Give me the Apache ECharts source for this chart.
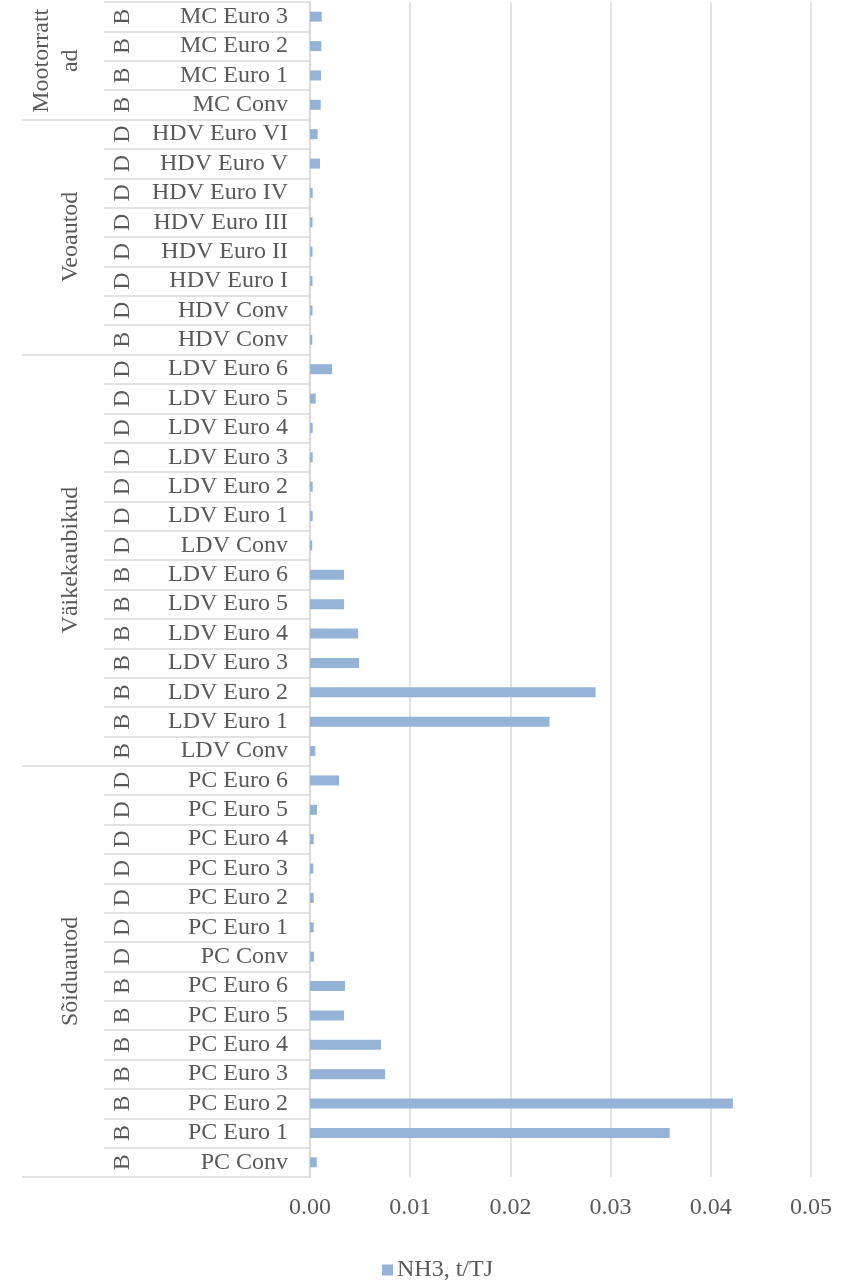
<!DOCTYPE html>
<html>
<head>
<meta charset="utf-8">
<script src="https://cdn.jsdelivr.net/npm/echarts@6/dist/echarts.min.js"></script>
<style>
  html, body { margin: 0; padding: 0; background: #ffffff; }
  #chart { width: 842px; height: 1282px; }
</style>
</head>
<body>
<div id="chart"></div>
<script>
// Vehicle groups (bottom to top) and how many rows each one spans
const groups = ['Sõiduautod', 'Väikekaubikud', 'Veoautod', 'Mootorrattad'];
const groupSizes = [14, 14, 8, 4];

// Fuel code per row (B = bensiin, D = diisel), bottom to top
const fuels = [
  'B', 'B', 'B', 'B', 'B', 'B', 'B', 'D', 'D', 'D', 'D', 'D', 'D', 'D',
  'B', 'B', 'B', 'B', 'B', 'B', 'B', 'D', 'D', 'D', 'D', 'D', 'D', 'D',
  'B', 'D', 'D', 'D', 'D', 'D', 'D', 'D',
  'B', 'B', 'B', 'B'
];

// Emission class per row, bottom to top
const classes = [
  'PC Conv', 'PC Euro 1', 'PC Euro 2', 'PC Euro 3', 'PC Euro 4', 'PC Euro 5', 'PC Euro 6',
  'PC Conv', 'PC Euro 1', 'PC Euro 2', 'PC Euro 3', 'PC Euro 4', 'PC Euro 5', 'PC Euro 6',
  'LDV Conv', 'LDV Euro 1', 'LDV Euro 2', 'LDV Euro 3', 'LDV Euro 4', 'LDV Euro 5', 'LDV Euro 6',
  'LDV Conv', 'LDV Euro 1', 'LDV Euro 2', 'LDV Euro 3', 'LDV Euro 4', 'LDV Euro 5', 'LDV Euro 6',
  'HDV Conv', 'HDV Conv', 'HDV Euro I', 'HDV Euro II', 'HDV Euro III', 'HDV Euro IV', 'HDV Euro V', 'HDV Euro VI',
  'MC Conv', 'MC Euro 1', 'MC Euro 2', 'MC Euro 3'
];

// NH3 emission factor, t/TJ, bottom to top
const nh3 = [
  0.00067, 0.0359, 0.0422, 0.0075, 0.0071, 0.0034, 0.0035,
  0.0004, 0.00037, 0.00037, 0.00033, 0.00037, 0.0007, 0.0029,
  0.00053, 0.0239, 0.0285, 0.0049, 0.0048, 0.0034, 0.0034,
  0.00022, 0.00027, 0.00027, 0.00027, 0.00027, 0.00057, 0.0022,
  0.00023, 0.00025, 0.00025, 0.00025, 0.00025, 0.00027, 0.0010, 0.00077,
  0.00107, 0.0011, 0.00113, 0.00117
];

const xTicks = { min: 0, max: 0.05, step: 0.01 };
const seriesName = 'NH3, t/TJ';

const FONT = 'Liberation Serif';
const FONT_SIZE = 24;
const TEXT = '#595959';
const GRID = '#d9d9d9';
const BAR = '#95b3d7';

const CHART_H = 1282, GRID_TOP = 2, GRID_BOTTOM = 105;
const GROUP_LINE_H = 29;

// Group boundaries and centres along the row scale
const groupEdges = [0];
groupSizes.forEach(function (n, i) { groupEdges.push(groupEdges[i] + n); });
const groupCentres = groupSizes.map(function (n, i) { return groupEdges[i] + n / 2; });
const totalRows = groupEdges[groupEdges.length - 1];
const rowPx = (CHART_H - GRID_TOP - GRID_BOTTOM) / totalRows;
const rowCentres = fuels.map(function (f, i) { return i + 0.5; });

// Break a group name into lines that fit the height of its rows
const measureCtx = document.createElement('canvas').getContext('2d');
measureCtx.font = FONT_SIZE + 'px "' + FONT + '"';
function wrapToSpan(text, span) {
  const lines = [];
  let line = '';
  for (const ch of text) {
    if (line && measureCtx.measureText(line + ch).width > span) {
      lines.push(line);
      line = ch;
    } else {
      line += ch;
    }
  }
  lines.push(line);
  return lines.join('\n');
}

const chart = echarts.init(document.getElementById('chart'), null, { renderer: 'canvas' });

chart.setOption({
  backgroundColor: '#ffffff',
  animation: false,
  textStyle: { fontFamily: FONT, color: TEXT },
  legend: {
    data: [seriesName],
    left: 382,
    top: 1258,
    padding: 0,
    itemWidth: 11,
    itemHeight: 11,
    itemGap: 6,
    icon: 'rect',
    textStyle: { fontFamily: FONT, fontSize: FONT_SIZE, color: TEXT, padding: [0, 0, 0, -1] }
  },
  grid: { left: 310, right: 31, top: GRID_TOP, bottom: GRID_BOTTOM, containLabel: false },
  xAxis: {
    type: 'value',
    min: xTicks.min,
    max: xTicks.max,
    interval: xTicks.step,
    axisLine: { show: false },
    axisTick: { show: false },
    splitLine: { show: true, lineStyle: { color: GRID, width: 1.5 } },
    axisLabel: {
      fontFamily: FONT, fontSize: FONT_SIZE, color: TEXT, margin: 19,
      formatter: function (v) { return v.toFixed(2); }
    }
  },
  yAxis: [
    {
      // emission class labels and row separators
      type: 'category',
      data: classes,
      axisLine: { show: true, lineStyle: { color: GRID, width: 2 } },
      axisTick: { show: true, length: 206, lineStyle: { color: GRID, width: 1.5 } },
      axisLabel: { fontFamily: FONT, fontSize: FONT_SIZE, color: TEXT, margin: 22, interval: 0 },
      splitLine: { show: false }
    },
    {
      // fuel code column
      type: 'value',
      min: 0,
      max: totalRows,
      position: 'left',
      axisLine: { show: false },
      axisTick: { show: false },
      axisLabel: {
        show: true,
        customValues: rowCentres,
        fontFamily: FONT, fontSize: FONT_SIZE, color: TEXT,
        rotate: 90, align: 'center', verticalAlign: 'middle', margin: 187,
        formatter: function (v) { return fuels[Math.floor(v)] || ''; }
      },
      splitLine: { show: false }
    },
    {
      // vehicle group column with its boundaries; wrapped names grow leftwards
      type: 'value',
      min: 0,
      max: totalRows,
      position: 'left',
      axisLine: { show: false },
      axisTick: {
        show: true,
        customValues: groupEdges.slice(0, groupEdges.length - 1),
        length: 288,
        lineStyle: { color: GRID, width: 1.5 }
      },
      axisLabel: {
        show: true,
        customValues: groupCentres,
        fontFamily: FONT, fontSize: FONT_SIZE, color: TEXT,
        rotate: 90, align: 'center', verticalAlign: 'bottom',
        margin: 310 - 71 - GROUP_LINE_H / 2,
        lineHeight: GROUP_LINE_H,
        formatter: function (v) {
          const i = groupCentres.indexOf(v);
          return i >= 0 ? wrapToSpan(groups[i], groupSizes[i] * rowPx - 10) : '';
        }
      },
      splitLine: { show: false }
    }
  ],
  series: [
    {
      name: seriesName,
      type: 'bar',
      xAxisIndex: 0,
      yAxisIndex: 0,
      data: nh3,
      barWidth: 10,
      itemStyle: { color: BAR }
    }
  ]
});
</script>
</body>
</html>
